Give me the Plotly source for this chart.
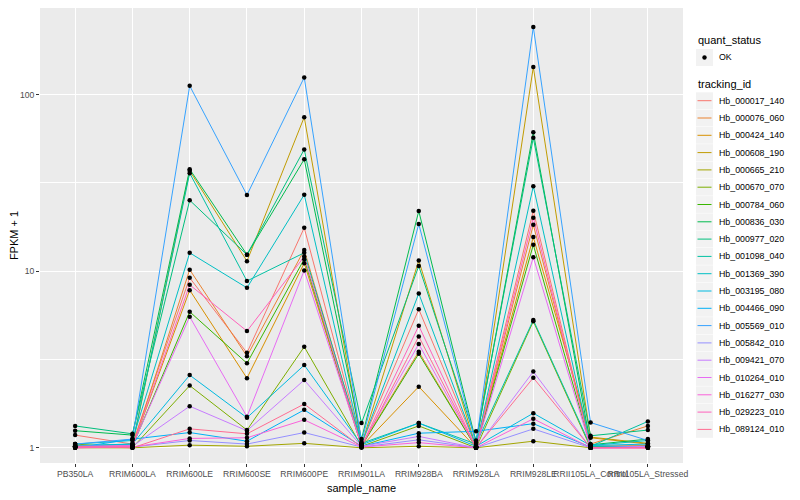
import plotly.graph_objects as go

samples = ["PB350LA", "RRIM600LA", "RRIM600LE", "RRIM600SE", "RRIM600PE", "RRIM901LA",
           "RRIM928BA", "RRIM928LA", "RRIM928LE", "RRII105LA_Control", "RRII105LA_Stressed"]

genes = ["Hb_000017_140", "Hb_000076_060", "Hb_000424_140", "Hb_000608_190", "Hb_000665_210",
         "Hb_000670_070", "Hb_000784_060", "Hb_000836_030", "Hb_000977_020", "Hb_001098_040",
         "Hb_001369_390", "Hb_003195_080", "Hb_004466_090", "Hb_005569_010", "Hb_005842_010",
         "Hb_009421_070", "Hb_010264_010", "Hb_016277_030", "Hb_029223_010", "Hb_089124_010"]

colors = ["#F8766D", "#EA8331", "#D89000", "#C09B00", "#A3A500", "#7CAE00", "#39B600", "#00BB4E",
          "#00BF7D", "#00C1A3", "#00BFC4", "#00BAE0", "#00B0F6", "#35A2FF", "#9590FF", "#C77CFF",
          "#E76BF3", "#FA62DB", "#FF62BC", "#FF6C91"]

fpkm1 = {
    "Hb_000017_140": [1.18, 1.05, 9.17, 3.45, 17.6, 1.05, 6.09, 1.02, 22.0, 1.02, 1.03],
    "Hb_000076_060": [1.02, 1.01, 10.2, 3.3, 13.2, 1.03, 3.5, 1.00, 18.3, 1.05, 1.33],
    "Hb_000424_140": [1.01, 1.02, 7.81, 2.48, 11.1, 1.02, 2.22, 1.00, 15.6, 1.14, 1.05],
    "Hb_000608_190": [1.02, 1.03, 37.0, 11.4, 74.5, 1.04, 11.5, 1.01, 143.0, 1.15, 1.06],
    "Hb_000665_210": [1.00, 1.00, 1.035, 1.02, 1.06, 1.00, 1.02, 1.00, 1.09, 1.00, 1.02],
    "Hb_000670_070": [1.05, 1.00, 2.25, 1.26, 3.73, 1.02, 1.33, 1.00, 5.2, 1.00, 1.02],
    "Hb_000784_060": [1.01, 1.02, 5.89, 3.01, 11.7, 1.02, 3.41, 1.00, 14.1, 1.02, 1.02],
    "Hb_000836_030": [1.25, 1.18, 37.8, 12.4, 43.0, 1.12, 21.9, 1.08, 61.2, 1.04, 1.12],
    "Hb_000977_020": [1.33, 1.20, 25.2, 12.4, 48.9, 1.38, 10.7, 1.10, 56.9, 1.17, 1.26],
    "Hb_001098_040": [1.03, 1.05, 35.9, 8.8, 12.7, 1.06, 1.38, 1.05, 5.29, 1.02, 1.41],
    "Hb_001369_390": [1.05, 1.10, 12.7, 8.05, 27.1, 1.05, 7.48, 1.02, 30.3, 1.03, 1.10],
    "Hb_003195_080": [1.02, 1.05, 2.58, 1.48, 2.94, 1.04, 1.38, 1.02, 1.57, 1.03, 1.05],
    "Hb_004466_090": [1.00, 1.12, 1.22, 1.09, 1.64, 1.02, 1.21, 1.24, 1.37, 1.01, 1.02],
    "Hb_005569_010": [1.05, 1.12, 112.0, 27.0, 125.0, 1.08, 18.5, 1.05, 241.0, 1.39, 1.10],
    "Hb_005842_010": [1.01, 1.01, 1.10, 1.05, 1.22, 1.01, 1.11, 1.00, 1.28, 1.00, 1.01],
    "Hb_009421_070": [1.01, 1.02, 1.72, 1.25, 2.42, 1.02, 1.16, 1.00, 2.70, 1.00, 1.02],
    "Hb_010264_010": [1.02, 1.03, 5.52, 1.50, 10.1, 1.03, 3.87, 1.00, 12.0, 1.00, 1.00],
    "Hb_016277_030": [1.00, 1.01, 1.13, 1.14, 1.44, 1.01, 1.07, 1.00, 1.46, 1.00, 1.00],
    "Hb_029223_010": [1.00, 1.02, 8.37, 4.58, 12.1, 1.02, 4.91, 1.00, 20.1, 1.00, 1.00],
    "Hb_089124_010": [1.02, 1.00, 1.28, 1.20, 1.77, 1.01, 4.27, 1.00, 2.49, 1.00, 1.00],
}

quant_status = ["OK"]
y_ticks = [1, 10, 100]
y_minor = [10 ** 0.5, 10 ** 1.5]

font = "Liberation Sans, Arial, sans-serif"
OFF = 8  # page body margin
W, H = 800 - OFF, 500 - OFF
ML, MR, MT, MB = 32, 117, 0, 37
PW, PH = W - ML - MR, H - MT - MB


def px(xw):
    return (xw - OFF - ML) / PW


def py(yw):
    return (H - MB - (yw - OFF)) / PH


fig = go.Figure()

for g, c in zip(genes, colors):
    fig.add_trace(go.Scatter(x=samples, y=fpkm1[g], mode="lines", name=g,
                             line=dict(color=c, width=1), showlegend=False))

all_x, all_y = [], []
for g in genes:
    all_x += samples
    all_y += fpkm1[g]
fig.add_trace(go.Scatter(x=all_x, y=all_y, mode="markers", name=quant_status[0],
                         marker=dict(color="black", size=4.5), showlegend=False))

# ggplot-style legends built from the same lists
shapes, annotations = [], []
key_x0, key_x1, text_x = 696, 713, 717
annotations.append(dict(x=px(key_x0), y=py(40), xref="paper", yref="paper", text="quant_status",
                        showarrow=False, xanchor="left", yanchor="middle",
                        font=dict(size=11, color="black", family=font)))
cy = 57.5
shapes.append(dict(type="rect", xref="paper", yref="paper", x0=px(key_x0), x1=px(key_x1),
                   y0=py(cy - 8.5), y1=py(cy + 8.5), fillcolor="#F2F2F2", line=dict(width=0), layer="above"))
shapes.append(dict(type="circle", xref="paper", yref="paper", x0=px(704.5 - 2.2), x1=px(704.5 + 2.2),
                   y0=py(cy - 2.2), y1=py(cy + 2.2), fillcolor="black", line=dict(width=0), layer="above"))
annotations.append(dict(x=px(text_x), y=py(cy), xref="paper", yref="paper", text=quant_status[0],
                        showarrow=False, xanchor="left", yanchor="middle",
                        font=dict(size=8.8, color="black", family=font)))

annotations.append(dict(x=px(key_x0), y=py(84), xref="paper", yref="paper", text="tracking_id",
                        showarrow=False, xanchor="left", yanchor="middle",
                        font=dict(size=11, color="black", family=font)))
for i, (g, c) in enumerate(zip(genes, colors)):
    cy = 100.7 + i * 17.3
    shapes.append(dict(type="rect", xref="paper", yref="paper", x0=px(key_x0), x1=px(key_x1),
                       y0=py(cy - 8.4), y1=py(cy + 8.4), fillcolor="#F2F2F2", line=dict(width=0),
                       layer="above"))
    shapes.append(dict(type="line", xref="paper", yref="paper", x0=px(key_x0 + 1.5), x1=px(key_x1 - 1.5),
                       y0=py(cy), y1=py(cy), line=dict(color=c, width=1), layer="above"))
    annotations.append(dict(x=px(text_x), y=py(cy), xref="paper", yref="paper", text=g,
                            showarrow=False, xanchor="left", yanchor="middle",
                            font=dict(size=8.8, color="black", family=font)))

fig.update_layout(
    width=W, height=H,
    margin=dict(l=ML, r=MR, t=MT, b=MB, autoexpand=False),
    paper_bgcolor="white", plot_bgcolor="#EBEBEB",
    font=dict(family=font, size=9, color="#4D4D4D"),
    showlegend=False, shapes=shapes, annotations=annotations,
)
fig.update_xaxes(type="category", showgrid=True, gridcolor="white", gridwidth=1.1, automargin=False,
                 ticks="outside", ticklen=3, tickcolor="#333333", tickangle=0,
                 tickfont=dict(size=8.6, color="#4D4D4D"),
                 title=dict(text="sample_name", font=dict(size=11, color="black"), standoff=5),
                 zeroline=False, showline=False)
fig.update_yaxes(type="log", range=[-0.086, 2.49], tickvals=y_ticks, ticktext=[str(v) for v in y_ticks],
                 showgrid=True, gridcolor="white", gridwidth=1.1, automargin=False,
                 minor=dict(tickvals=y_minor, showgrid=True, gridcolor="white", gridwidth=0.5, ticks=""),
                 ticks="outside", ticklen=3, tickcolor="#333333", tickfont=dict(size=8.6, color="#4D4D4D"),
                 title=dict(text="FPKM + 1", font=dict(size=11, color="black"), standoff=1),
                 zeroline=False, showline=False)

fig.write_html("out.html")
